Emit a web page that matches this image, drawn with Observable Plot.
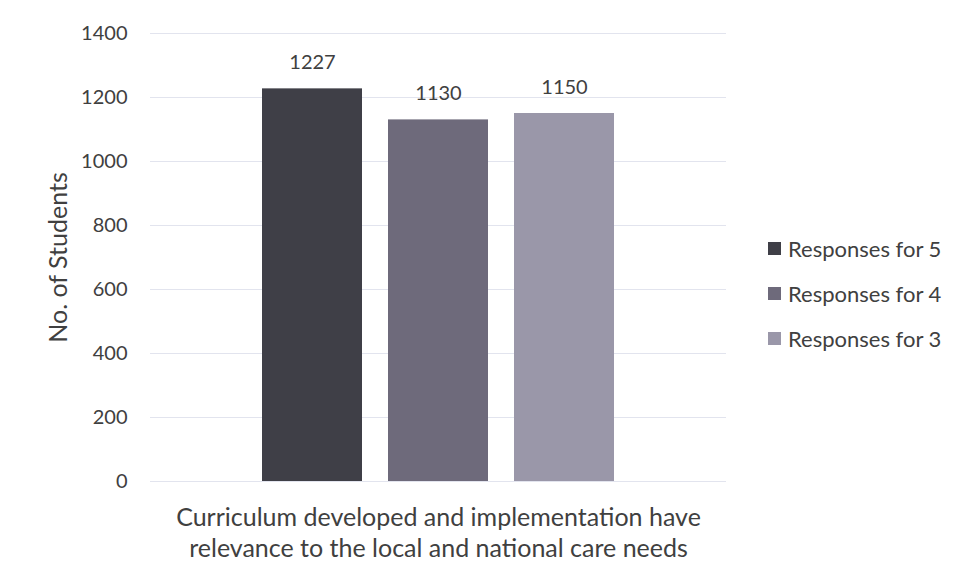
<!DOCTYPE html>
<html>
<head>
<meta charset="utf-8">
<script src="https://cdn.jsdelivr.net/npm/d3@7"></script>
<script src="https://cdn.jsdelivr.net/npm/@observablehq/plot@0.6"></script>
<style>
  html, body { margin: 0; padding: 0; background: #fff; }
  #wrap { position: relative; width: 957px; height: 581px; font-family: Lato, "Open Sans", sans-serif; color: #404040; }
  #legend { position: absolute; left: 768px; top: 226px; }
  .row { display: flex; align-items: center; height: 45px; font-size: 22px; white-space: nowrap; }
  .sw { width: 13px; height: 13px; margin-right: 7px; flex: none; }
</style>
</head>
<body>
<div id="wrap"><div id="chart"></div><div id="legend"></div></div>
<script>
// ---- data ----
const categories = ["Curriculum developed and implementation have\nrelevance to the local and national care needs"];
const series = ["Responses for 5", "Responses for 4", "Responses for 3"];
const values = [1227, 1130, 1150];
const yTicks = [0, 200, 400, 600, 800, 1000, 1200, 1400];

// ---- styles ----
const colors = ["#3f3f47", "#6e6a7b", "#9a97a9"];
const textColor = "#404040";

const data = series.map((s, i) => ({category: categories[0], series: s, value: values[i]}));

const chart = Plot.plot({
  width: 957,
  height: 581,
  marginLeft: 150,
  marginRight: 231,
  marginTop: 33,
  marginBottom: 100,
  style: {fontFamily: "Lato, 'Open Sans', sans-serif", color: textColor, background: "#fff"},
  fx: {domain: categories, padding: 0, label: null},
  x: {domain: series, paddingInner: 0.21, paddingOuter: 0.88, axis: null},
  y: {domain: [0, 1400], label: null},
  color: {domain: series, range: colors},
  marks: [
    Plot.gridY(yTicks, {stroke: "#e2e4ee", strokeOpacity: 1, strokeWidth: 1}),
    Plot.barY(data, {fx: "category", x: "series", y: "value", fill: "series"}),
    Plot.text(data, {fx: "category", x: "series", y: "value", text: d => String(d.value), dy: -26, fontSize: 20, fill: textColor}),
    Plot.axisY(yTicks, {tickSize: 0, tickPadding: 23, fontSize: 20, tickFormat: d3.format("d"), fill: textColor, label: "No. of Students", labelAnchor: "center", labelArrow: "none", labelOffset: 101}),
    Plot.axisFx({anchor: "bottom", tickSize: 0, tickPadding: 22, fontSize: 25, lineHeight: 1.24, fill: textColor, label: null})
  ]
});
document.getElementById("chart").append(chart);

// y-axis label font size
chart.querySelectorAll("g[aria-label='y-axis label'] text").forEach(t => t.setAttribute("font-size", 25));

const legend = document.getElementById("legend");
series.forEach((s, i) => {
  const row = document.createElement("div");
  row.className = "row";
  const sw = document.createElement("span");
  sw.className = "sw";
  sw.style.background = colors[i];
  const lab = document.createElement("span");
  lab.textContent = s;
  row.append(sw, lab);
  legend.append(row);
});
</script>
</body>
</html>
